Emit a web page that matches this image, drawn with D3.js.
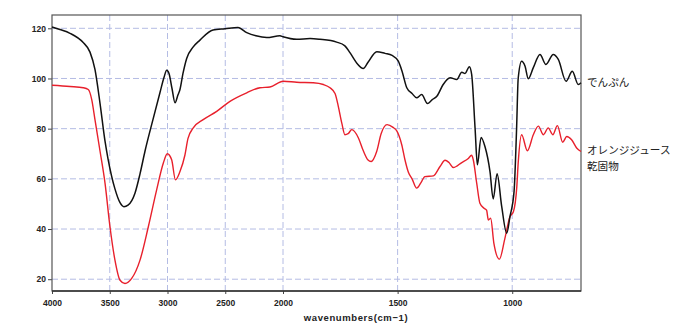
<!DOCTYPE html>
<html><head><meta charset="utf-8">
<script src="https://cdn.jsdelivr.net/npm/d3@7/dist/d3.min.js"></script>
<style>
body{margin:0;background:#fff;}
svg{display:block;}
</style></head>
<body><svg id="c" width="680" height="327"></svg>
<script>
// Wavenumbers (cm-1) and % values
const starchWn = [4000,3931,3844,3732,3671,3628,3584,3541,3515,3455,3411,3377,3342,3281,3238,3195,3126,3065,3030,3007,2987,2961,2935,2909,2892,2866,2834,2779,2719,2606,2502,2390,2314,2234,2141,2026,2000,1940,1882,1839,1766,1730,1708,1677,1650,1629,1591,1555,1524,1497,1481,1460,1437,1417,1395,1370,1350,1328,1302,1271,1242,1220,1206,1187,1177,1162,1152,1136,1119,1097,1083,1066,1046,1024,1010,992,981,974,959,944,930,908,879,853,821,799,765,738,712,700];
const starchVal = [120.5,119.5,118,114.4,110.5,103.6,90,75,68,56,50.5,48.9,49.5,54.4,62,71,83.6,94.4,100.5,103.3,102,96,90.3,93.5,95.6,102,108,112.5,115.3,119.3,119.8,120.3,118.3,117,116.3,117,116.6,115.6,115.9,115.6,114.5,113,110.3,106,104,106.5,110.7,110,109.2,106.9,103,96.3,94,92.3,93.6,90,91.5,93,97.5,100.3,99.6,102.5,102,104.7,101.6,80,65.6,76.5,72.9,62.9,52,62,49,38.3,44.9,55,80,100,106.9,104.9,99.9,104.3,109.6,105.6,109.6,107.6,98.9,102.9,97.6,98.3];

const ojWn = [4000,3844,3729,3686,3656,3628,3584,3541,3498,3455,3411,3368,3310,3238,3166,3094,3036,3002,2964,2931,2892,2849,2823,2777,2691,2574,2459,2314,2199,2113,1999,1940,1868,1824,1795,1773,1759,1743,1730,1716,1700,1671,1651,1629,1616,1591,1572,1546,1520,1503,1482,1468,1453,1437,1417,1398,1381,1344,1315,1293,1276,1257,1220,1193,1177,1170,1155,1141,1123,1112,1104,1094,1080,1056,1032,1010,995,980,974,959,934,908,886,864,843,823,803,780,762,741,719,700];
const ojVal = [97.3,96.8,96.3,95.6,91.6,83.6,71,58.3,40.9,27.6,19.6,18.3,20.3,27.6,40.9,55.6,66.3,70,67.6,59.6,62.9,69.5,76,80.3,83.6,86.9,90.9,94.3,96.3,96.6,98.9,98.5,98.3,97.6,96.3,94,89,82,77.6,78,79.6,76.3,71.5,67.5,66.9,71,78,81.6,80.5,79,73.6,67.6,62.6,60,56.3,58.5,60.9,61.2,64.9,67.4,66.5,64.5,66.5,68,69.4,67.6,58.3,50.3,48.3,47.5,43.6,44.3,34.3,28,36.3,44.9,46.9,56.9,66.3,77.6,71.2,77.6,81,77.6,80.3,77.6,81.2,74.6,76.9,75.6,72.3,70.9];

const xTicks = [4000,3500,3000,2500,2000,1500,1000];
const yTicks = [20,40,60,80,100,120];
const seriesNames = ["でんぷん","オレンジジュース","乾固物"];

const svg = d3.select("#c");
const L=52, R=581, T=15, B=291;
const x = d3.scaleLinear().domain([4000,2000,700]).range([L,283,R]);
const y = d3.scaleLinear().domain([15.3,125.3]).range([B,T]);

// grid
const g = svg.append("g");
g.selectAll("line.h").data(yTicks).join("line")
  .attr("x1",L).attr("x2",R).attr("y1",d=>y(d)).attr("y2",d=>y(d))
  .attr("stroke","#b4bce4").attr("stroke-width",1).attr("stroke-dasharray","6,3");
g.selectAll("line.v").data(xTicks.slice(1)).join("line")
  .attr("y1",T).attr("y2",B).attr("x1",d=>x(d)).attr("x2",d=>x(d))
  .attr("stroke","#b4bce4").attr("stroke-width",1).attr("stroke-dasharray","6,3");

// axes
const xa = svg.append("g").attr("transform",`translate(0,${B})`)
  .call(d3.axisBottom(x).tickValues(xTicks).tickSize(3).tickPadding(6).tickFormat(d3.format("d")));
const ya = svg.append("g").attr("transform",`translate(${L},0)`)
  .call(d3.axisLeft(y).tickValues(yTicks).tickSize(4).tickPadding(2).tickFormat(d3.format("d")));
[xa,ya].forEach(a=>{
  a.select(".domain").remove();
  a.selectAll("line").attr("stroke","#444");
  a.selectAll("text").attr("font-family","Liberation Sans, Arial, sans-serif")
   .attr("font-size",8.5).attr("font-weight","bold").attr("fill","#222");
});

// frame
svg.append("rect").attr("x",L).attr("y",T).attr("width",R-L).attr("height",B-T)
  .attr("fill","none").attr("stroke","#555").attr("stroke-width",1.2);
svg.append("line").attr("x1",L).attr("x2",R).attr("y1",B).attr("y2",B).attr("stroke","#333").attr("stroke-width",1.6);

// curves
const line = d3.line().curve(d3.curveMonotoneX).x(d=>x(d[0])).y(d=>y(d[1]));
const ojData = ojWn.map((w,i)=>[w,ojVal[i]]);
const stData = starchWn.map((w,i)=>[w,starchVal[i]]);
svg.append("path").attr("d",line(ojData)).attr("fill","none").attr("stroke","#e8202c").attr("stroke-width",1.4);
svg.append("path").attr("d",line(stData)).attr("fill","none").attr("stroke","#111").attr("stroke-width",1.5);

// labels
const lf = "Noto Sans CJK JP, sans-serif";
const fs = 10.6;
svg.append("text").attr("x",587).attr("y",86).text(seriesNames[0]).attr("font-family",lf).attr("font-size",fs).attr("fill","#222");
svg.append("text").attr("x",587).attr("y",154).text(seriesNames[1]).attr("font-family",lf).attr("font-size",fs).attr("fill","#222");
svg.append("text").attr("x",587).attr("y",170).text(seriesNames[2]).attr("font-family",lf).attr("font-size",fs).attr("fill","#222");

svg.append("text").attr("x",356).attr("y",321).attr("text-anchor","middle")
  .attr("font-family","Liberation Sans, Arial, sans-serif").attr("font-size",9.5).attr("font-weight","bold")
  .attr("letter-spacing",0.6).attr("fill","#222").text("wavenumbers(cm−1)");
</script></body></html>
